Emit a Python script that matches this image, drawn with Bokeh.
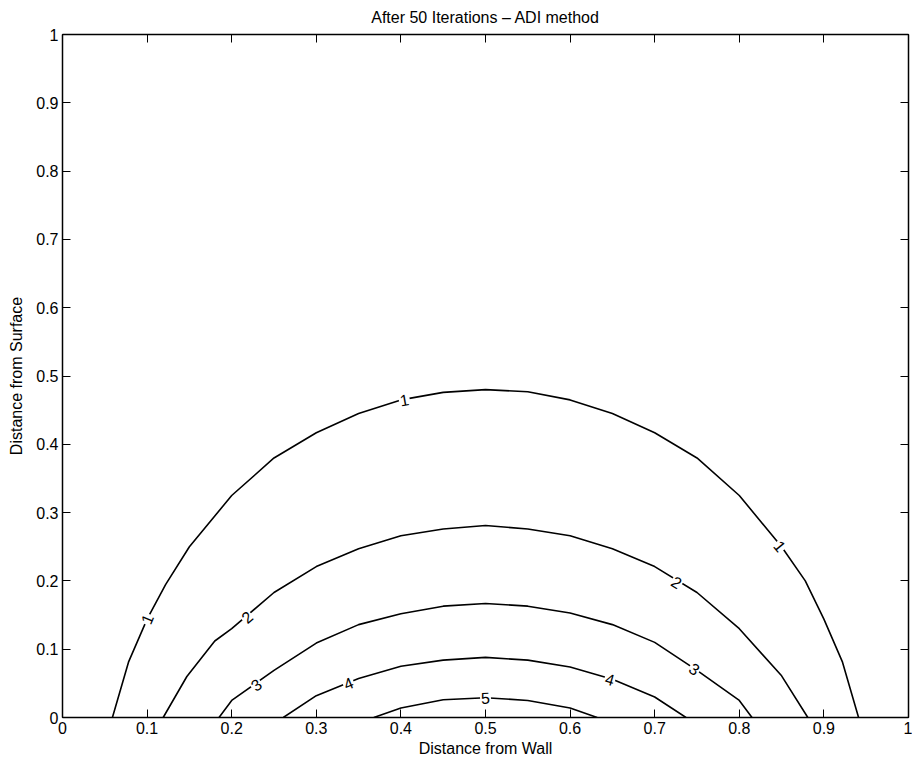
import numpy as np
from bokeh.plotting import figure
from bokeh.models import Range1d, LinearAxis, FixedTicker, ColumnDataSource, CustomLabelingPolicy
from bokeh.embed import file_html
from bokeh.resources import INLINE
from bokeh.core.properties import value

# ---------------- data ----------------
title_text = "After 50 Iterations \u2013 ADI method"
x_label = "Distance from Wall"
y_label = "Distance from Surface"

tick_values = [0, 0.1, 0.2, 0.3, 0.4, 0.5, 0.6, 0.7, 0.8, 0.9, 1]
tick_labels = ["0", "0.1", "0.2", "0.3", "0.4", "0.5", "0.6", "0.7", "0.8", "0.9", "1"]

levels = [1, 2, 3, 4, 5]

c1_x = [0.059, 0.078, 0.10, 0.122, 0.15, 0.20, 0.25, 0.30, 0.35, 0.40, 0.45, 0.50,
        0.55, 0.60, 0.65, 0.70, 0.75, 0.80, 0.85, 0.878, 0.90, 0.922, 0.941]
c1_y = [0.0, 0.081, 0.144, 0.195, 0.25, 0.325, 0.38, 0.417, 0.445, 0.465, 0.476, 0.48,
        0.477, 0.465, 0.445, 0.417, 0.38, 0.325, 0.25, 0.2, 0.144, 0.081, 0.0]

c2_x = [0.119, 0.147, 0.18, 0.20, 0.25, 0.30, 0.35, 0.40, 0.45, 0.50,
        0.55, 0.60, 0.65, 0.70, 0.75, 0.80, 0.85, 0.881]
c2_y = [0.0, 0.06, 0.112, 0.13, 0.183, 0.221, 0.247, 0.266, 0.276, 0.281,
        0.276, 0.266, 0.247, 0.221, 0.183, 0.13, 0.061, 0.0]

c3_x = [0.185, 0.20, 0.25, 0.30, 0.35, 0.40, 0.45, 0.50, 0.55, 0.60, 0.65, 0.70, 0.75, 0.80, 0.815]
c3_y = [0.0, 0.025, 0.069, 0.109, 0.136, 0.152, 0.163, 0.167, 0.163, 0.153, 0.136, 0.110, 0.069, 0.025, 0.0]

c4_x = [0.261, 0.30, 0.35, 0.40, 0.45, 0.50, 0.55, 0.60, 0.65, 0.70, 0.737]
c4_y = [0.0, 0.032, 0.057, 0.075, 0.084, 0.088, 0.084, 0.074, 0.056, 0.030, 0.0]

c5_x = [0.368, 0.40, 0.45, 0.50, 0.55, 0.60, 0.632]
c5_y = [0.0, 0.014, 0.026, 0.029, 0.025, 0.014, 0.0]

label_level = [1, 1, 1, 2, 2, 3, 3, 4, 4, 5]
label_x = [0.10, 0.404, 0.848, 0.218, 0.726, 0.229, 0.747, 0.338, 0.647, 0.50]
label_y = [0.144, 0.465, 0.251, 0.147, 0.198, 0.048, 0.071, 0.050, 0.056, 0.029]

curves_x = [c1_x, c2_x, c3_x, c4_x, c5_x]
curves_y = [c1_y, c2_y, c3_y, c4_y, c5_y]

# ---------------- figure ----------------
FONT = "Liberation Sans"
W, H = 912, 759
ML, MR, MT, MB = 62, 0, 34, 40

p = figure(width=W, height=H, x_range=Range1d(0, 1), y_range=Range1d(0, 1),
           output_backend="svg", toolbar_location=None, title=title_text,
           min_border_left=ML, min_border_right=MR, min_border_top=MT, min_border_bottom=MB)
p.title.align = "center"
p.title.text_font = FONT
p.title.text_font_size = "16px"
p.title.text_font_style = "normal"
p.title.text_color = "black"
p.title.standoff = 10
p.grid.visible = False
p.outline_line_color = "black"
p.outline_line_width = 1
p.background_fill_color = "white"
p.border_fill_color = "white"

hide_labels = CustomLabelingPolicy(code="""
for (const i of indices) { indices.unset(i) }
return indices
""")

def style_axis(ax, show_labels):
    ax.ticker = FixedTicker(ticks=tick_values)
    ax.major_label_overrides = dict(zip(tick_values, tick_labels))
    ax.major_tick_in = 8
    ax.major_tick_out = 0
    ax.major_tick_line_color = "black"
    ax.major_tick_line_width = 1
    ax.minor_tick_line_color = None
    ax.axis_line_color = "black"
    ax.axis_line_width = 1.5
    ax.major_label_text_font = FONT
    ax.major_label_text_color = "black"
    if show_labels:
        ax.major_label_text_font_size = "16px"
        ax.major_label_standoff = 4
        ax.axis_label_text_font = FONT
        ax.axis_label_text_font_size = "16px"
        ax.axis_label_text_font_style = "normal"
        ax.axis_label_text_color = "black"
        ax.axis_label_standoff = 3
    else:
        ax.major_label_text_font_size = "1px"
        ax.major_label_standoff = 0
        ax.major_label_policy = hide_labels

p.xaxis.axis_label = x_label
p.yaxis.axis_label = y_label
style_axis(p.xaxis[0], True)
style_axis(p.yaxis[0], True)
p.yaxis[0].axis_label_standoff = 8

ax_r = LinearAxis()
style_axis(ax_r, False)
p.add_layout(ax_r, "right")
ax_t = LinearAxis()
style_axis(ax_t, False)
p.add_layout(ax_t, "above")

# contour lines
for cx, cy in zip(curves_x, curves_y):
    p.line(cx, cy, line_color="black", line_width=1.6)

# label angles follow the local direction of each contour (screen space)
sx = W - ML - MR - 2
sy = H - MT - MB
angles = []
for lev, lx, ly in zip(label_level, label_x, label_y):
    cx = np.array(curves_x[lev - 1])
    cy = np.array(curves_y[lev - 1])
    i = int(np.clip(np.searchsorted(cx, lx), 1, len(cx) - 1))
    dx = (cx[i] - cx[i - 1]) * sx
    dy = (cy[i] - cy[i - 1]) * sy
    a = np.arctan2(dy, dx)
    if a > np.pi / 2:
        a -= np.pi
    if a < -np.pi / 2:
        a += np.pi
    angles.append(float(a))

src = ColumnDataSource(dict(x=label_x, y=label_y, text=[str(v) for v in label_level], angle=angles))
p.text(x="x", y="y", text="text", angle="angle", source=src,
       text_font=value(FONT), text_font_size="16px", text_color="black",
       text_align="center", text_baseline="middle",
       background_fill_color="white", padding=1)

open("out.html", "w").write(file_html(p, INLINE))
